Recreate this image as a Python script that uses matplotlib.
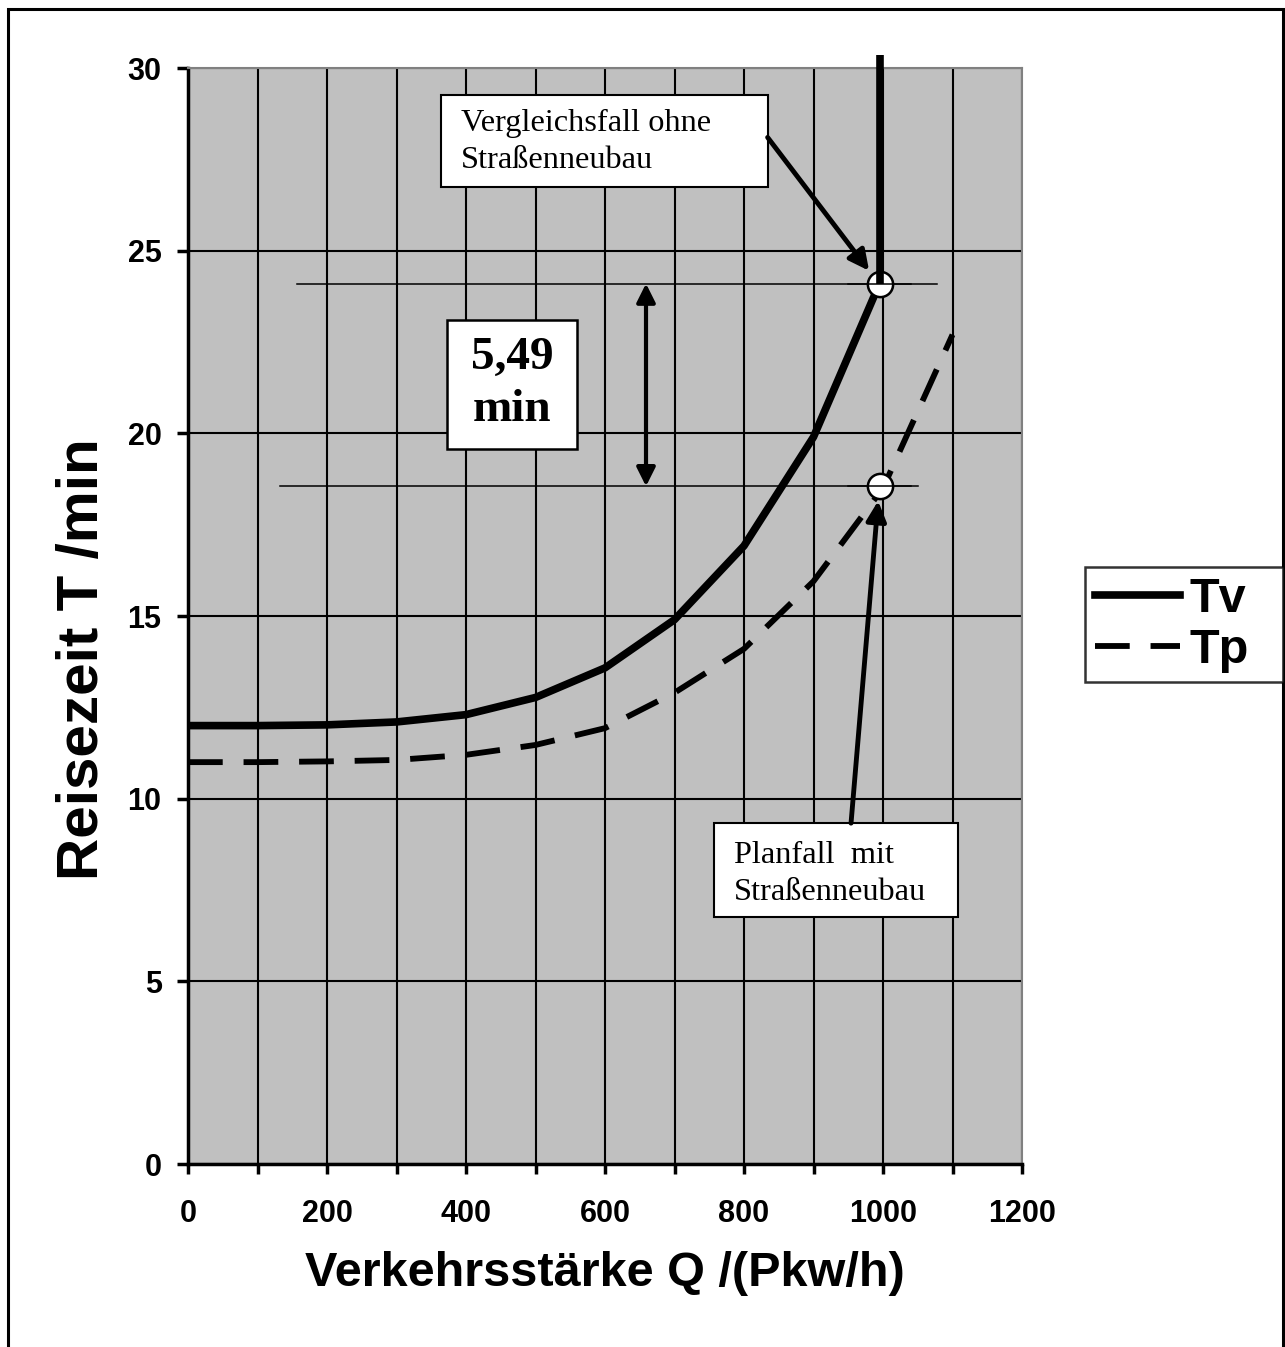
import numpy as np
import matplotlib
matplotlib.use("Agg")
import matplotlib.pyplot as plt
from matplotlib.patches import Rectangle
from matplotlib.ticker import MultipleLocator

# --- Data ---
q = [0, 100, 200, 300, 400, 500, 600, 700, 800, 900, 995, 995]
tv = [12.0, 12.0, 12.02, 12.1, 12.3, 12.77, 13.58, 14.9, 16.92, 19.9, 24.1, 30.35]

q_p = [0, 100, 200, 300, 400, 500, 600, 700, 800, 900, 1000, 1100]
tp = [11.0, 11.0, 11.02, 11.06, 11.2, 11.47, 11.93, 12.9, 14.1, 15.95, 18.5, 22.7]

q_mark = [995, 995]
t_mark = [24.1, 18.55]
diff_label = "5,49\nmin"

plt.rcParams['lines.scale_dashes'] = False
plt.rcParams['font.family'] = ['Liberation Sans', 'DejaVu Sans']
plt.rcParams['font.weight'] = 'bold'

fig = plt.figure(figsize=(12.85, 13.47), dpi=100)
ax = fig.add_axes([188/1285, 1-1164/1347, (1022-188)/1285, (1164-68)/1347])
ax.set_facecolor('#c0c0c0')

# Grid
ax.set_xlim(0, 1200)
ax.set_ylim(0, 30)
ax.xaxis.set_major_locator(MultipleLocator(200))
ax.xaxis.set_minor_locator(MultipleLocator(100))
ax.yaxis.set_major_locator(MultipleLocator(5))
ax.grid(True, which='both', axis='x', color='black', linewidth=1.5)
ax.grid(True, which='major', axis='y', color='black', linewidth=1.5)
ax.set_axisbelow(True)

for s in ['top', 'right']:
    ax.spines[s].set_color('#808080')
    ax.spines[s].set_linewidth(1.5)
for s in ['left', 'bottom']:
    ax.spines[s].set_color('black')
    ax.spines[s].set_linewidth(2.5)

ax.tick_params(axis='x', which='both', direction='out', length=7, width=2.5, pad=18, labelsize=22)
ax.tick_params(axis='y', which='both', direction='out', length=8, width=2.5, pad=11, labelsize=22)

ax.set_xlabel("Verkehrsstärke Q /(Pkw/h)", weight='bold', size=35, labelpad=16)
ax.set_ylabel("Reisezeit T /min", weight='bold', size=42)
ax.yaxis.set_label_coords(-0.094, 0.461)

# Reference lines
ax.plot([157, 1078], [t_mark[0], t_mark[0]], color='black', lw=1.1, zorder=3)
ax.plot([132, 1050], [t_mark[1], t_mark[1]], color='black', lw=1.1, zorder=3)

# Curves
ax.plot(q[:-1], tv[:-1], color='black', lw=5.5, label='Tv', zorder=4)
ax.plot(q_p, tp, color='black', lw=4.2, dashes=(25, 15), dash_capstyle='butt', label='Tp', zorder=4)

# Marker circles
ax.scatter(q_mark, t_mark, s=330, facecolor='white', edgecolor='black', linewidth=1.8, zorder=5)
ax.plot(q[-2:], tv[-2:], color='black', lw=5.5, zorder=6, solid_capstyle='butt', clip_on=False)
ax.plot([950, 1040], [t_mark[0], t_mark[0]], color='black', lw=1.1, zorder=6)
ax.plot([950, 1040], [t_mark[1], t_mark[1]], color='black', lw=1.1, zorder=6)

# Double arrow showing the difference
ax.annotate("", xy=(659, t_mark[1]), xytext=(659, t_mark[0]),
            arrowprops=dict(arrowstyle='<|-|>', color='black', lw=3, mutation_scale=28,
                            shrinkA=0, shrinkB=0), zorder=6)

# 5,49 min box
ax.add_patch(Rectangle((372.7, 19.57), 187, 3.53, facecolor='white', edgecolor='black', lw=1.8, zorder=6))
ax.text(466, 21.35, diff_label, ha='center', va='center', family='Liberation Serif',
        weight='bold', size=34, linespacing=1.3, zorder=7)

# Vergleichsfall box + arrow
ax.add_patch(Rectangle((364, 26.74), 470, 2.52, facecolor='white', edgecolor='black', lw=1.5, zorder=6))
ax.text(392.5, 27.98, "Vergleichsfall ohne\nStraßenneubau", ha='left', va='center',
        family='Liberation Serif', weight='normal', size=23.3, linespacing=1.36, zorder=7)
ax.annotate("", xy=(980, 24.45), xytext=(834, 28.1),
            arrowprops=dict(arrowstyle='-|>', color='black', lw=3.5, mutation_scale=30,
                            shrinkA=0, shrinkB=0), zorder=6)

# Planfall box + arrow
ax.add_patch(Rectangle((757, 6.76), 351, 2.57, facecolor='white', edgecolor='black', lw=1.5, zorder=6))
ax.text(785.5, 7.95, "Planfall  mit\nStraßenneubau", ha='left', va='center',
        family='Liberation Serif', weight='normal', size=23.3, linespacing=1.36, zorder=7)
ax.annotate("", xy=(993, 18.15), xytext=(954, 9.33),
            arrowprops=dict(arrowstyle='-|>', color='black', lw=3.5, mutation_scale=30,
                            shrinkA=0, shrinkB=0), zorder=6)

# Legend
leg = fig.legend(loc='upper left', mode='expand',
                 bbox_to_anchor=(1085/1285, 1-683/1347, 198/1285, 116/1347), borderaxespad=0,
                 prop=dict(family='Liberation Sans', weight='bold', size=35),
                 handlelength=1.75, handletextpad=0.2, borderpad=0.2, labelspacing=0.12,
                 frameon=True, fancybox=False)
leg.get_frame().set_edgecolor('black')
leg.get_frame().set_linewidth(1.8)

# Outer border
fig.add_artist(Rectangle((8/1285, -0.05), 1275/1285, 1.05 - 9/1347, transform=fig.transFigure,
                         fill=False, edgecolor='black', lw=2.2))

fig.savefig("out.png", dpi=100)
